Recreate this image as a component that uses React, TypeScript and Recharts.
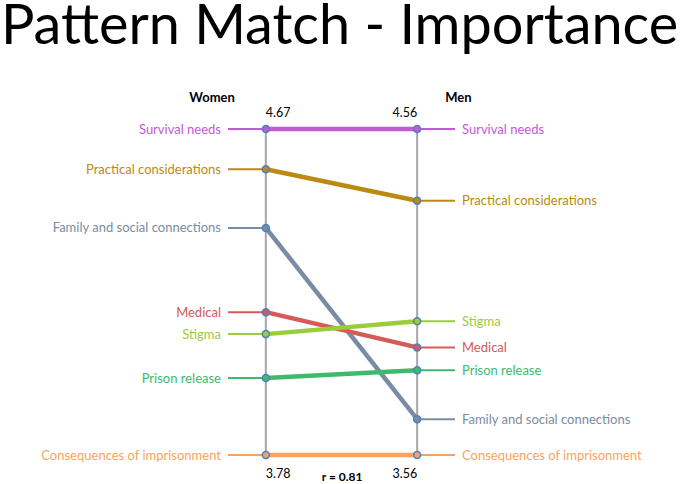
import React from 'react';
import { LineChart, Line, XAxis, YAxis, ReferenceLine, Customized } from 'recharts';

const categories = [
  'Survival needs',
  'Practical considerations',
  'Family and social connections',
  'Medical',
  'Stigma',
  'Prison release',
  'Consequences of imprisonment',
];
const women = [4.67, 4.56, 4.4, 4.17, 4.11, 3.99, 3.78];
const men = [4.56, 4.34, 3.67, 3.89, 3.97, 3.82, 3.56];
const groups = ['Women', 'Men'];
const titleText = 'Pattern Match - Importance';
const correlationText = 'r = 0.81';

const palette = ['#C259D6', '#BB8A12', '#7A8CA3', '#D65A5A', '#9ACD3A', '#3DBA6E', '#F5A463'];
const DOT_STROKE = '#4F81BD';
const AXIS_GRAY = '#A6A6A6';
const FONT = 'Lato, "Open Sans", sans-serif';

const wMin = Math.min(...women);
const wMax = Math.max(...women);
const mMin = Math.min(...men);
const mMax = Math.max(...men);
const normW = (v: number) => (v - wMin) / (wMax - wMin);
const normM = (v: number) => (v - mMin) / (mMax - mMin);

const LEFT_X = 0;
const RIGHT_X = 1;
const STUB = 0.25;

const series = categories.map((name, i) => ({
  name,
  color: palette[i],
  main: [
    { x: LEFT_X, y: normW(women[i]) },
    { x: RIGHT_X, y: normM(men[i]) },
  ],
  left: [
    { x: LEFT_X - STUB, y: normW(women[i]) },
    { x: LEFT_X, y: normW(women[i]) },
  ],
  right: [
    { x: RIGHT_X, y: normM(men[i]) },
    { x: RIGHT_X + STUB, y: normM(men[i]) },
  ],
}));

const fmt = (v: number) => v.toFixed(2);

const leftLabel = (name: string, color: string) => (props: any) => {
  if (props.index !== 0) return null;
  return (
    <text x={props.x - 7} y={props.y} dy="0.35em" textAnchor="end" fill={color} fontSize={13} fontFamily={FONT}>
      {name}
    </text>
  );
};
const rightLabel = (name: string, color: string) => (props: any) => {
  if (props.index !== 1) return null;
  return (
    <text x={props.x + 7} y={props.y} dy="0.35em" textAnchor="start" fill={color} fontSize={13} fontFamily={FONT}>
      {name}
    </text>
  );
};

const womenAxisLabel = (props: any) => {
  const { x, y, height } = props.viewBox;
  return (
    <g fontFamily={FONT} fill="#000">
      <text x={x - 31} y={y - 27} textAnchor="end" fontWeight="bold" fontSize={13}>{groups[0]}</text>
      <text x={x} y={y - 12} textAnchor="start" fontSize={12.5}>{fmt(wMax)}</text>
      <text x={x} y={y + height + 23} textAnchor="start" fontSize={12.5}>{fmt(wMin)}</text>
    </g>
  );
};
const menAxisLabel = (props: any) => {
  const { x, y, height } = props.viewBox;
  return (
    <g fontFamily={FONT} fill="#000">
      <text x={x + 28} y={y - 27} textAnchor="start" fontWeight="bold" fontSize={13}>{groups[1]}</text>
      <text x={x} y={y - 12} textAnchor="end" fontSize={12.5}>{fmt(mMax)}</text>
      <text x={x} y={y + height + 23} textAnchor="end" fontSize={12.5}>{fmt(mMin)}</text>
      <text x={x - 75} y={y + height + 26} textAnchor="middle" fontWeight="bold" fontSize={12}>{correlationText}</text>
    </g>
  );
};

const Title = () => (
  <text x={1} y={44} fontFamily={FONT} fontSize={55.8} fill="#000">
    {titleText}
  </text>
);

export default function App() {
  return (
    <div style={{ position: 'absolute', left: 0, top: 0, width: 685, height: 484, background: '#fff' }}>
      <LineChart width={685} height={484} margin={{ top: 129, bottom: 29, left: 228, right: 230 }}>
        <XAxis type="number" dataKey="x" domain={[LEFT_X - STUB, RIGHT_X + STUB]} hide />
        <YAxis type="number" dataKey="y" domain={[0, 1]} hide />
        <ReferenceLine x={LEFT_X} stroke={AXIS_GRAY} strokeWidth={2} label={womenAxisLabel} ifOverflow="visible" />
        <ReferenceLine x={RIGHT_X} stroke={AXIS_GRAY} strokeWidth={2} label={menAxisLabel} ifOverflow="visible" />
        {series.map((s) => (
          <Line
            key={'l-' + s.name}
            data={s.left}
            dataKey="y"
            stroke={s.color}
            strokeWidth={2}
            dot={false}
            isAnimationActive={false}
            label={leftLabel(s.name, s.color)}
          />
        ))}
        {series.map((s) => (
          <Line
            key={'r-' + s.name}
            data={s.right}
            dataKey="y"
            stroke={s.color}
            strokeWidth={2}
            dot={false}
            isAnimationActive={false}
            label={rightLabel(s.name, s.color)}
          />
        ))}
        {series.map((s) => (
          <Line
            key={'m-' + s.name}
            data={s.main}
            dataKey="y"
            stroke={s.color}
            strokeWidth={4.5}
            dot={{ r: 3.5, fill: s.color, stroke: DOT_STROKE, strokeWidth: 1.5 }}
            isAnimationActive={false}
          />
        ))}
        <Customized component={Title} />
      </LineChart>
    </div>
  );
}
